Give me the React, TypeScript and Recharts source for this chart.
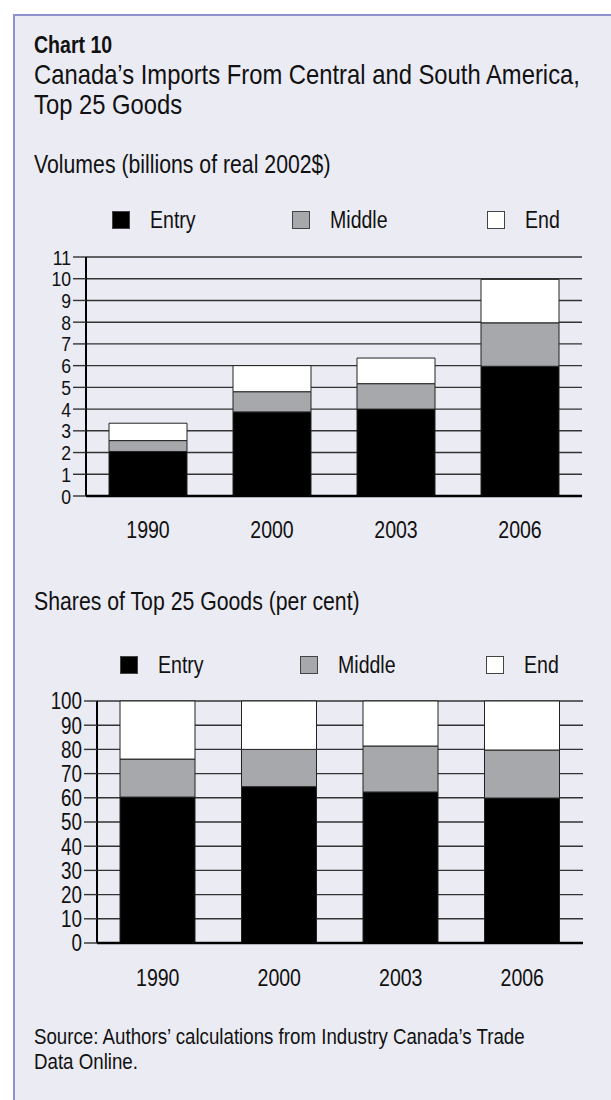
import React from 'react';
import { BarChart, Bar, XAxis, YAxis, CartesianGrid } from 'recharts';

const years = ['1990', '2000', '2003', '2006'];
const volEntry = [2.05, 3.87, 4.0, 5.97];
const volMiddle = [0.5, 0.93, 1.17, 2.0];
const volEnd = [0.8, 1.2, 1.18, 2.0];
const shareEntry = [60.3, 64.6, 62.4, 59.9];
const shareMiddle = [15.7, 15.4, 19.0, 19.85];
const shareEnd = [24.0, 20.0, 18.6, 20.25];
const volTicks = [0, 1, 2, 3, 4, 5, 6, 7, 8, 9, 10, 11];
const shareTicks = [0, 10, 20, 30, 40, 50, 60, 70, 80, 90, 100];
const legendItems = ['Entry', 'Middle', 'End'];

const FONT = "'Liberation Sans', Arial, sans-serif";
const SX = 0.85;
const BG = '#ebebf4';
const GRID = '#333333';
const COLORS = ['#000000', '#a7a8ab', '#ffffff'];

const volData = years.map((y, i) => ({ year: y, entry: volEntry[i], middle: volMiddle[i], end: volEnd[i] }));
const shareData = years.map((y, i) => ({ year: y, entry: shareEntry[i], middle: shareMiddle[i], end: shareEnd[i] }));

function Txt({ left, top, size, lh, bold, children }: any) {
  return (
    <div style={{ position: 'absolute', left, top, height: lh, fontSize: size, lineHeight: lh + 'px', fontWeight: bold ? 'bold' : 'normal', color: '#111', fontFamily: FONT, whiteSpace: 'nowrap', transform: `scaleX(${SX})`, transformOrigin: 'left top' }}>
      {children}
    </div>
  );
}

function Legend({ top, lefts }: { top: number; lefts: number[] }) {
  return (
    <>
      {legendItems.map((name, i) => (
        <div key={name} style={{ position: 'absolute', left: lefts[i], top, height: 24, display: 'flex', alignItems: 'center' }}>
          <div style={{ width: 18, height: 18, background: COLORS[i], border: '1px solid #444', boxSizing: 'border-box' }} />
          <span style={{ marginLeft: 20, fontSize: 23, fontFamily: FONT, color: '#111', display: 'inline-block', transform: `scaleX(${SX})`, transformOrigin: 'left center' }}>{name}</span>
        </div>
      ))}
    </>
  );
}

function makeYTick(size: number, sx: number) {
  return function YTick(props: any) {
    const { x, y, payload } = props;
    return (
      <g transform={`translate(${x},${y})`}>
        <text transform={`scale(${sx},1)`} textAnchor="end" dy="0.36em" fontSize={size} fontFamily={FONT} fill="#111">{payload.value}</text>
      </g>
    );
  };
}
const YTickVol = makeYTick(21, 0.84);
const YTickShare = makeYTick(23.5, 0.8);

function XTick(props: any) {
  const { x, y, payload } = props;
  return (
    <g transform={`translate(${x},${y})`}>
      <text transform={`scale(${SX},1)`} textAnchor="middle" dy="0.71em" fontSize={23} fontFamily={FONT} fill="#111">{payload.value}</text>
    </g>
  );
}

function StackChart({ data, ticks, domain, top, bottom, yWidth, barSize, marginTop, marginRight, labelGap, YT }: any) {
  const H = 330;
  return (
    <div style={{ position: 'absolute', left: 0, top }}>
      <BarChart width={611} height={H} data={data} margin={{ top: marginTop, right: marginRight, bottom: 0, left: 0 }} barSize={barSize}>
        <CartesianGrid vertical={false} stroke={GRID} strokeWidth={1.4} />
        <XAxis
          dataKey="year"
          axisLine={{ stroke: '#000', strokeWidth: 2.5 }}
          tickLine={false}
          tickSize={0}
          tickMargin={labelGap}
          height={H - (bottom - top)}
          tick={<XTick />}
        />
        <YAxis
          type="number"
          domain={domain}
          ticks={ticks}
          interval={0}
          width={yWidth}
          axisLine={{ stroke: '#000', strokeWidth: 2 }}
          tickLine={{ stroke: GRID, strokeWidth: 1.4 }}
          tickSize={13}
          tickMargin={2}
          tick={<YT />}
        />
        <Bar dataKey="entry" stackId="a" fill={COLORS[0]} stroke="#222" strokeWidth={1} isAnimationActive={false} />
        <Bar dataKey="middle" stackId="a" fill={COLORS[1]} stroke="#222" strokeWidth={1} isAnimationActive={false} />
        <Bar dataKey="end" stackId="a" fill={COLORS[2]} stroke="#222" strokeWidth={1} isAnimationActive={false} />
      </BarChart>
    </div>
  );
}

export default function App() {
  return (
    <div style={{ position: 'absolute', left: 0, top: 0, width: 611, height: 1100, overflow: 'hidden', fontFamily: FONT }}>
      <div style={{ position: 'absolute', left: 13, top: 14, width: 598, height: 1086, background: BG, borderLeft: '2px solid #8e92cc', borderTop: '2px solid #8e92cc', boxSizing: 'border-box' }} />
      <Txt left={34} top={32} size={23} lh={26} bold>Chart 10</Txt>
      <Txt left={34} top={62} size={28} lh={26}>Canada’s Imports From Central and South America,</Txt>
      <Txt left={34} top={92} size={28} lh={26}>Top 25 Goods</Txt>
      <Txt left={34} top={151} size={25} lh={26}>Volumes (billions of real 2002$)</Txt>
      <Legend top={208} lefts={[112, 292, 487]} />
      <StackChart data={volData} ticks={volTicks} domain={[0, 11]} top={230} bottom={496} yWidth={86} barSize={78} marginTop={27} marginRight={29} labelGap={26} YT={YTickVol} />
      <Txt left={34} top={588} size={25} lh={26}>Shares of Top 25 Goods (per cent)</Txt>
      <Legend top={653} lefts={[120, 300, 486]} />
      <StackChart data={shareData} ticks={shareTicks} domain={[0, 100]} top={680} bottom={943} yWidth={97} barSize={75} marginTop={21} marginRight={28} labelGap={27} YT={YTickShare} />
      <Txt left={34} top={1025} size={22} lh={24}>Source: Authors’ calculations from Industry Canada’s Trade</Txt>
      <Txt left={34} top={1050} size={22} lh={24}>Data Online.</Txt>
    </div>
  );
}
